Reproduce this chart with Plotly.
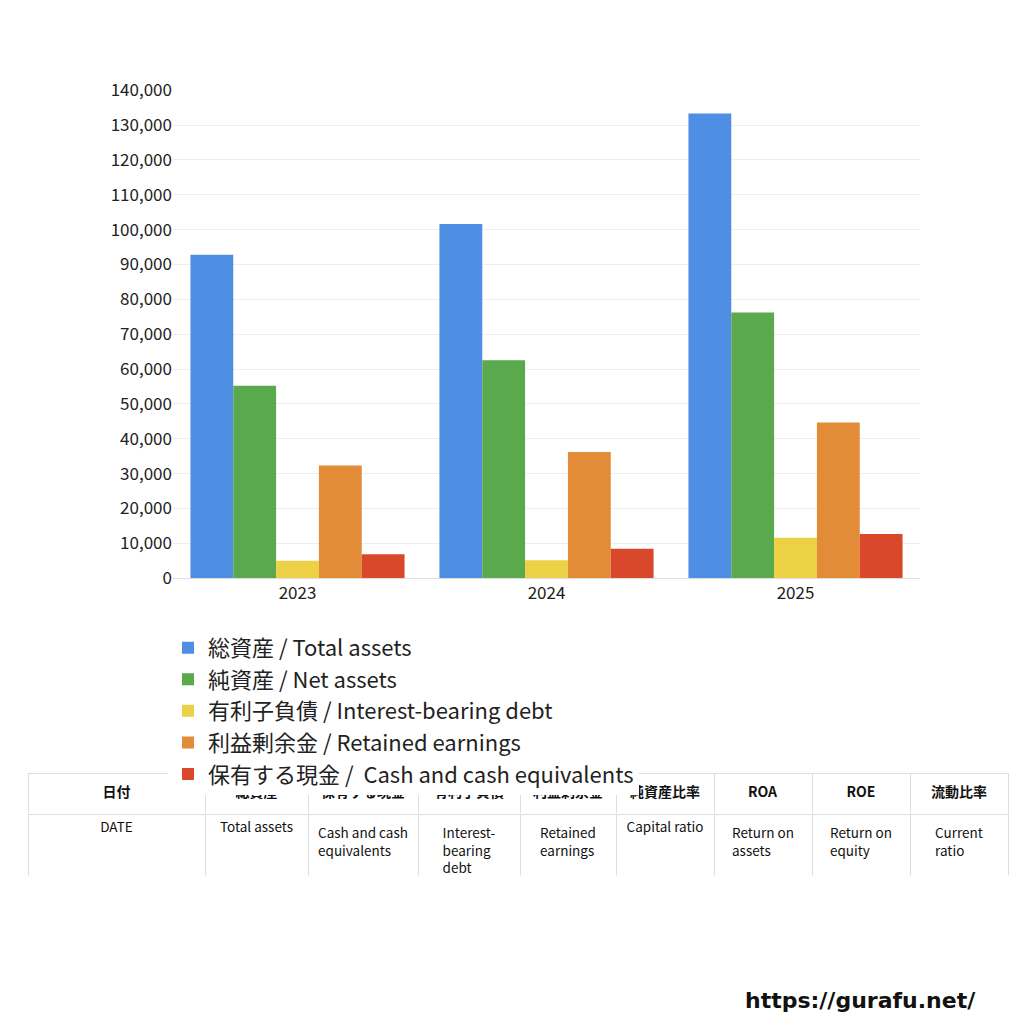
import plotly.graph_objects as go

years = ["2023", "2024", "2025"]
total_assets = [92805, 101618, 133344]
net_assets = [55200, 62500, 76200]
interest_debt = [5000, 5100, 11576]
retained = [32307, 36191, 44642]
cash = [6864, 8429, 12649]

series_names = ["総資産 / Total assets", "純資産 / Net assets", "有利子負債 / Interest-bearing debt",
                "利益剰余金 / Retained earnings", "保有する現金 /  Cash and cash equivalents"]
colors = ["#4f8fe3", "#5aa94c", "#ecd046", "#e38c38", "#d9482b"]

hdr_jp = ["日付", "総資産", "保有する現金", "有利子負債", "利益剰余金", "純資産比率", "ROA", "ROE", "流動比率"]
hdr_en = ["DATE", "Total assets", "Cash and cash<br>equivalents", "Interest-<br>bearing<br>debt",
          "Retained<br>earnings", "Capital ratio", "Return on<br>assets", "Return on<br>equity", "Current<br>ratio"]
months = ["3", "3", "3"]
capital_ratio = ["59.5%", "61.5%", "57.1%"]
roa = ["3.7%", "4.5%", "7.1%"]
roe = ["6.3%", "7.4%", "12.4%"]
current_ratio = ["136.7%", "140.1%", "133.9%"]

fig = go.Figure()
for name, vals, c in zip(series_names, [total_assets, net_assets, interest_debt, retained, cash], colors):
    fig.add_trace(go.Bar(x=years, y=vals, name=name, marker=dict(color=c, line=dict(width=0))))

W = 1024
def yd(top, bot):
    return [1 - bot / W, 1 - top / W]

line = dict(color="#dddddd", width=1)
fnt = dict(family="Noto Sans CJK JP", size=14, color="#111")
wide = [177, 103, 110, 102, 96, 98, 98, 98, 98]
fig.add_trace(go.Table(domain=dict(x=[20 / W, 1000 / W], y=yd(770, 812)), columnwidth=wide,
                       header=dict(values=["<b>%s</b>" % h for h in hdr_jp], height=42, fill_color="white",
                                   line=line, font=fnt, align="center"),
                       cells=dict(values=[[] for _ in hdr_jp])))
fig.add_trace(go.Table(domain=dict(x=[20 / W, 1000 / W], y=yd(812, 875)), columnwidth=wide,
                       header=dict(values=hdr_en, height=63, fill_color="white", line=line,
                                   font=dict(family="Noto Sans CJK JP", size=13.5, color="#111"), align="center"),
                       cells=dict(values=[[] for _ in hdr_en])))
fmt = lambda v: ["{:,}".format(x) for x in v]
fig.add_trace(go.Table(domain=dict(x=[20 / W, 1000 / W], y=yd(875, 980)),
                       columnwidth=[127, 50] + wide[1:],
                       header=dict(values=[""] * 10, height=0, line=dict(width=0), fill_color="white"),
                       cells=dict(values=[["<b>%s</b>" % y for y in years], ["<b>%s</b>" % m for m in months],
                                          fmt(total_assets), fmt(cash), fmt(interest_debt), fmt(retained),
                                          capital_ratio, roa, roe, current_ratio],
                                  height=35, fill_color="white", line=line,
                                  font=dict(family="Noto Sans CJK JP", size=[19, 19] + [15] * 8,
                                            color="#111"),
                                  align="center")))

fig.add_annotation(text="<b>https://gurafu.net/</b>", xref="paper", yref="paper", x=970 / W, y=1 - 1003 / W,
                   xanchor="right", yanchor="middle", showarrow=False,
                   font=dict(family="DejaVu Sans", size=22, color="#111"))

fig.update_layout(
    width=1024, height=1024, margin=dict(l=0, r=0, t=0, b=0),
    paper_bgcolor="white", plot_bgcolor="white", barmode="group", bargap=0.14, bargroupgap=0,
    font=dict(family="Noto Sans CJK JP", color="#222"),
    xaxis=dict(domain=[165 / W, 912 / W], tickfont=dict(size=17), showline=True, linecolor="#ddd"),
    yaxis=dict(domain=yd(70, 570), range=[0, 140000], dtick=10000, tickformat=",", gridcolor="#eeeeee",
               tickfont=dict(size=17), zeroline=False),
    legend=dict(x=160 / W, y=1 - 620 / W, xanchor="left", yanchor="top", font=dict(size=22),
                tracegroupgap=0, itemwidth=30),
)
fig.write_html("out.html")
